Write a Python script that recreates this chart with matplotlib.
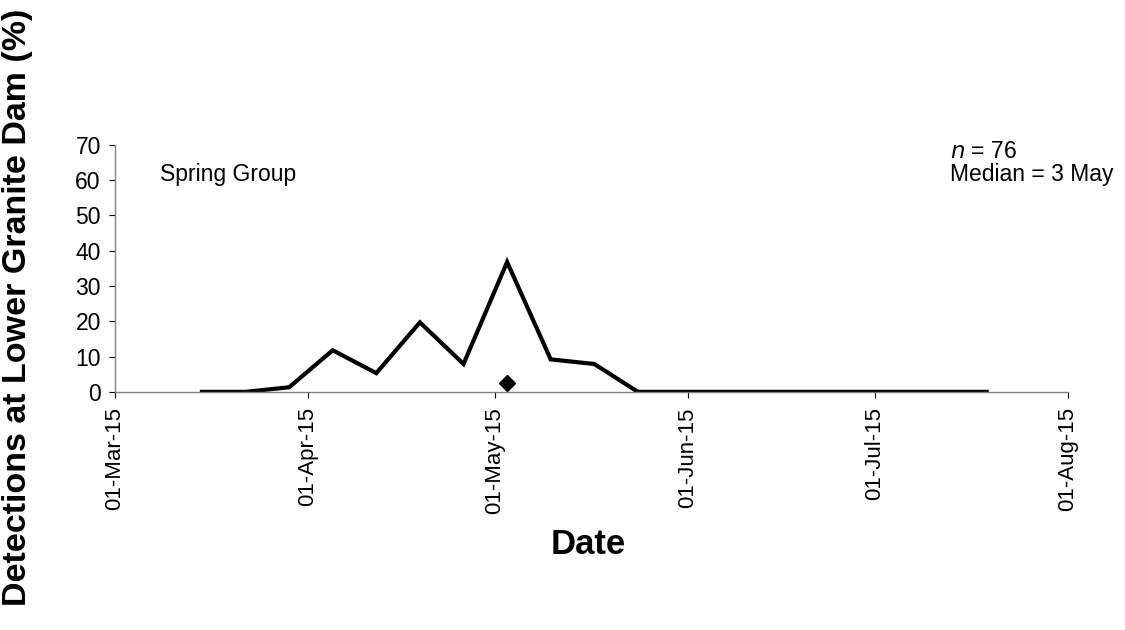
import numpy as np
import pandas as pd
import matplotlib
matplotlib.use('Agg')
import matplotlib.pyplot as plt
import matplotlib.dates as mdates

# weekly detections (% of n = 76)
dates = pd.date_range('2015-03-15', '2015-07-19', freq='7D')
detections = [0.0, 0.0, 1.3, 11.8, 5.3, 19.7, 7.9, 36.8, 9.2, 7.9,
              0.0, 0.0, 0.0, 0.0, 0.0, 0.0, 0.0, 0.0, 0.0]
median_date = pd.Timestamp('2015-05-03')
median_y = 2.6

x_ticks = pd.to_datetime(['2015-03-01', '2015-04-01', '2015-05-01',
                          '2015-06-01', '2015-07-01', '2015-08-01'])

plt.rcParams['font.family'] = ['Liberation Sans', 'DejaVu Sans']

fig = plt.figure(figsize=(11.25, 6.3), dpi=100)
ax = fig.add_axes([0.102, 0.378, 0.847, 0.392])

ax.plot(dates, detections, color='black', linewidth=3.0, solid_joinstyle='miter')
ax.plot([median_date], [median_y], marker='D', color='black', markersize=8, linestyle='none')

ax.set_xlim(x_ticks[0], x_ticks[-1])
ax.set_ylim(0, 70)
ax.set_yticks(range(0, 71, 10))
ax.set_xticks(x_ticks)
ax.xaxis.set_major_formatter(mdates.DateFormatter('%d-%b-%y'))
plt.setp(ax.get_xticklabels(), rotation=90)

ax.tick_params(axis='both', colors='black', length=4, width=0.8, direction='out')
ax.tick_params(axis='y', labelsize=16.5, pad=6)
ax.tick_params(axis='x', labelsize=16, pad=7)

for side in ['top', 'right']:
    ax.spines[side].set_visible(False)
for side in ['left', 'bottom']:
    ax.spines[side].set_color('#808080')
    ax.spines[side].set_linewidth(1.0)

ax.text(0.047, 0.88, 'Spring Group', transform=ax.transAxes, fontsize=16.5,
        va='center', ha='left')
ax.text(0.877, 0.975, '$\\it{n}$ = 76', transform=ax.transAxes, fontsize=16.5,
        va='center', ha='left')
ax.text(0.877, 0.88, 'Median = 3 May', transform=ax.transAxes, fontsize=16.5,
        va='center', ha='left')

fig.text(0.523, 0.135, 'Date', fontsize=25, fontweight='bold', ha='center', va='center')
fig.text(0.016, 0.512, 'Detections at Lower Granite Dam (%)', fontsize=24.5,
         fontweight='bold', rotation=90, ha='center', va='center')

fig.savefig('out.png', dpi=100)
